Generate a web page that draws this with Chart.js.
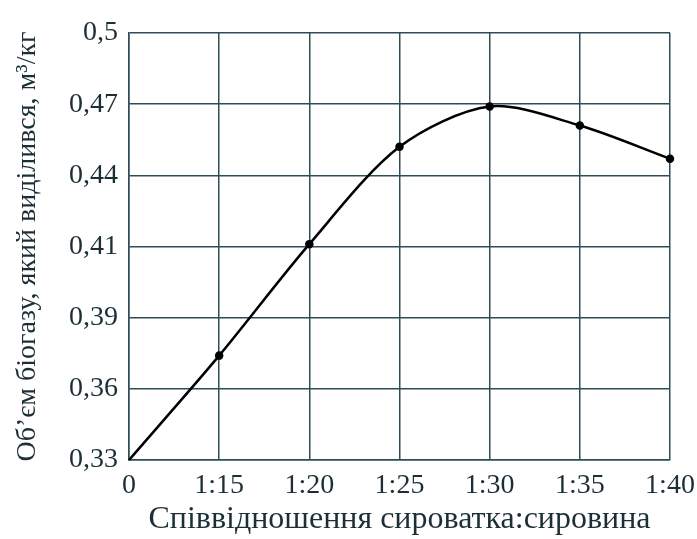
<!DOCTYPE html>
<html>
<head>
<meta charset="utf-8">
<script src="https://cdn.jsdelivr.net/npm/chart.js@4/dist/chart.umd.min.js"></script>
<style>
  html, body { margin: 0; padding: 0; background: #fff; }
  #wrap { width: 697px; height: 539px; }
</style>
</head>
<body>
<div id="wrap"><canvas id="chart"></canvas></div>
<script>
// ratio labels along x
const ratios = ['0', '1:15', '1:20', '1:25', '1:30', '1:35', '1:40'];
// biogas volume, m3/kg
const biogasVolume = [0.33, 0.374, 0.411, 0.452, 0.469, 0.461, 0.447];
// y labels as printed; the grid rows are evenly spaced even though the steps differ
const yTicks = [0.33, 0.36, 0.39, 0.41, 0.44, 0.47, 0.5];

const ink = '#1d2f36';
const gridColor = '#2f4d57';
const serif = "'Liberation Serif', 'DejaVu Serif', serif";

// linear scale whose labelled rows sit at equal distance
class RowScale extends Chart.LinearScale {
    buildTicks() {
        return yTicks.map(v => ({ value: v }));
    }
    getPixelForValue(value) {
        const t = yTicks;
        let i = 0;
        while (i < t.length - 2 && value > t[i + 1]) i++;
        const f = i + (value - t[i]) / (t[i + 1] - t[i]);
        return this.getPixelForDecimal(f / (t.length - 1));
    }
    getValueForPixel(pixel) {
        const t = yTicks;
        const f = this.getDecimalForPixel(pixel) * (t.length - 1);
        const i = Math.max(0, Math.min(t.length - 2, Math.floor(f)));
        return t[i] + (f - i) * (t[i + 1] - t[i]);
    }
}
RowScale.id = 'rows';
RowScale.defaults = {};
Chart.register(RowScale);

new Chart(document.getElementById('chart'), {
    type: 'line',
    data: {
        labels: ratios,
        datasets: [{
            data: biogasVolume,
            borderColor: '#000',
            backgroundColor: '#000',
            borderWidth: 2.5,
            // no dot at the origin corner
            pointRadius: ctx => ctx.dataIndex === 0 ? 0 : 3,
            pointHoverRadius: 3,
            tension: 0.3,
            fill: false,
            clip: false
        }]
    },
    options: {
        responsive: true,
        maintainAspectRatio: false,
        animation: false,
        layout: { padding: { top: 33, right: 27, left: 0, bottom: 0 } },
        plugins: {
            legend: { display: false },
            tooltip: { enabled: false }
        },
        scales: {
            x: {
                type: 'category',
                offset: false,
                grid: { color: gridColor, lineWidth: 1.5, drawTicks: false },
                border: { color: gridColor, width: 1.5 },
                ticks: {
                    color: ink,
                    padding: 9,
                    maxRotation: 0,
                    autoSkip: false,
                    font: { family: serif, size: 28 }
                },
                title: {
                    display: true,
                    text: 'Співвідношення сироватка:сировина',
                    color: ink,
                    padding: { top: 2, bottom: 0 },
                    font: { family: serif, size: 32 }
                },
                afterFit: scale => {
                    scale.height = 79;
                    // let the last label hang into the right margin
                    scale.paddingRight = 20;
                    scale.paddingLeft = 0;
                }
            },
            y: {
                type: 'rows',
                min: 0.33,
                max: 0.5,
                grid: { color: gridColor, lineWidth: 1.5, drawTicks: false },
                border: { color: gridColor, width: 1.5 },
                ticks: {
                    color: ink,
                    padding: 11,
                    font: { family: serif, size: 28 },
                    callback: v => String(v).replace('.', ',')
                },
                title: {
                    display: true,
                    text: 'Об\u2019єм біогазу, який виділився, м³/кг',
                    color: ink,
                    padding: { top: 11, bottom: 0 },
                    font: { family: serif, size: 28 }
                },
                afterFit: scale => { scale.width = 129; }
            }
        }
    }
});
</script>
</body>
</html>
